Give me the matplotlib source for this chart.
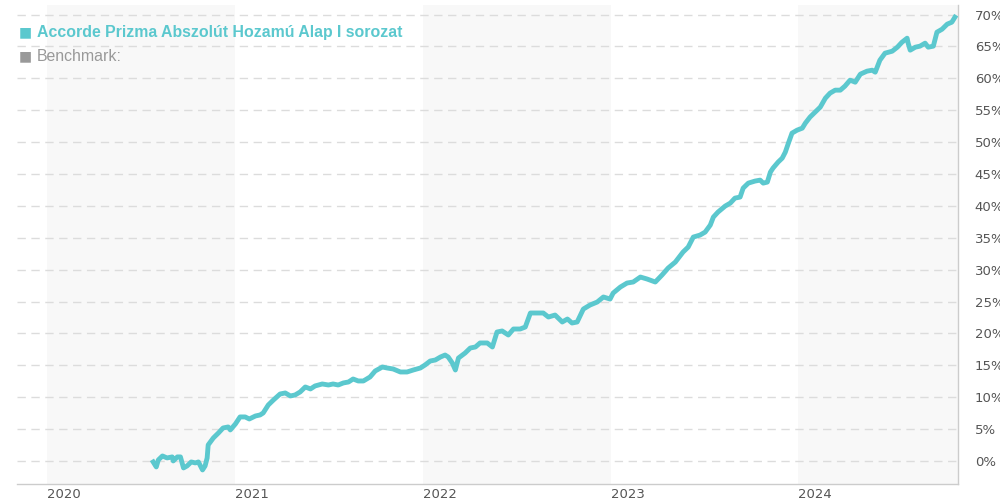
import pandas as pd
import matplotlib
matplotlib.use('Agg')
import matplotlib.pyplot as plt

# fund performance, cumulative return in %
dates = [
    '2020-07-25', '2020-07-31', '2020-08-04', '2020-08-12', '2020-08-21', '2020-08-31',
    '2020-09-02', '2020-09-10', '2020-09-16', '2020-09-22', '2020-09-29', '2020-10-07',
    '2020-10-15', '2020-10-21', '2020-10-29', '2020-11-03', '2020-11-07', '2020-11-09',
    '2020-11-19', '2020-11-29', '2020-12-08', '2020-12-18', '2020-12-22', '2021-01-01',
    '2021-01-10', '2021-01-20', '2021-01-28', '2021-02-09', '2021-02-18', '2021-02-24',
    '2021-03-06', '2021-03-16', '2021-03-29', '2021-04-08', '2021-04-18', '2021-04-27',
    '2021-05-07', '2021-05-17', '2021-05-27', '2021-06-05', '2021-06-19', '2021-07-01',
    '2021-07-10', '2021-07-20', '2021-07-30', '2021-08-09', '2021-08-18', '2021-08-28',
    '2021-09-07', '2021-09-20', '2021-09-30', '2021-10-14', '2021-10-23', '2021-11-04',
    '2021-11-18', '2021-12-01', '2021-12-13', '2021-12-27', '2022-01-05', '2022-01-15',
    '2022-01-25', '2022-02-04', '2022-02-13', '2022-02-19', '2022-02-27', '2022-03-05',
    '2022-03-11', '2022-03-24', '2022-04-03', '2022-04-13', '2022-04-22', '2022-05-06',
    '2022-05-16', '2022-05-25', '2022-06-04', '2022-06-16', '2022-06-26', '2022-07-09',
    '2022-07-19', '2022-07-29', '2022-08-11', '2022-08-23', '2022-09-02', '2022-09-15',
    '2022-09-29', '2022-10-09', '2022-10-18', '2022-10-28', '2022-11-09', '2022-11-22',
    '2022-12-06', '2022-12-18', '2022-12-31', '2023-01-06', '2023-01-20', '2023-02-02',
    '2023-02-14', '2023-02-28', '2023-03-13', '2023-03-29', '2023-04-11', '2023-04-23',
    '2023-05-07', '2023-05-22', '2023-06-01', '2023-06-11', '2023-06-24', '2023-07-04',
    '2023-07-14', '2023-07-20', '2023-07-29', '2023-08-12', '2023-08-22', '2023-08-31',
    '2023-09-10', '2023-09-16', '2023-09-26', '2023-10-09', '2023-10-19', '2023-10-25',
    '2023-11-02', '2023-11-08', '2023-11-13', '2023-11-23', '2023-12-01', '2023-12-07',
    '2023-12-13', '2023-12-20', '2023-12-30', '2024-01-09', '2024-01-15', '2024-01-24',
    '2024-02-03', '2024-02-13', '2024-02-23', '2024-03-03', '2024-03-13', '2024-03-23',
    '2024-04-01', '2024-04-11', '2024-04-21', '2024-05-01', '2024-05-14', '2024-05-24',
    '2024-05-30', '2024-06-08', '2024-06-18', '2024-07-02', '2024-07-12', '2024-07-21',
    '2024-07-31', '2024-08-02', '2024-08-06', '2024-08-16', '2024-08-25', '2024-09-04',
    '2024-09-10', '2024-09-20', '2024-09-27', '2024-10-07', '2024-10-17', '2024-10-26',
    '2024-11-01',
]
fund = [
    -0.16, -0.94, 0.16, 0.78, 0.47, 0.63,
    0.0, 0.63, 0.63, -1.10, -0.78, -0.16,
    -0.31, -0.16, -1.41, -0.78, 0.47, 2.51,
    3.60, 4.39, 5.17, 5.33, 4.86, 5.80,
    6.90, 6.90, 6.58, 7.05, 7.21, 7.52,
    8.78, 9.56, 10.50, 10.66, 10.19, 10.34,
    10.82, 11.60, 11.29, 11.76, 12.07, 11.91,
    12.07, 11.91, 12.23, 12.38, 12.85, 12.54,
    12.54, 13.17, 14.11, 14.73, 14.58, 14.42,
    13.95, 13.95, 14.26, 14.58, 15.05, 15.67,
    15.83, 16.30, 16.61, 16.30, 15.36, 14.26,
    16.14, 16.93, 17.71, 17.87, 18.50, 18.50,
    17.87, 20.22, 20.38, 19.75, 20.69, 20.69,
    21.00, 23.20, 23.20, 23.20, 22.57, 22.88,
    21.79, 22.26, 21.63, 21.79, 23.82, 24.45,
    24.92, 25.71, 25.39, 26.33, 27.27, 27.90,
    28.06, 28.84, 28.53, 28.06, 29.15, 30.25,
    31.19, 32.76, 33.54, 35.11, 35.42, 35.89,
    36.99, 38.24, 39.03, 39.97, 40.44, 41.22,
    41.38, 42.79, 43.57, 43.89, 44.04, 43.57,
    43.73, 45.30, 45.92, 46.87, 47.49, 48.43,
    49.84, 51.41, 51.88, 52.19, 52.98, 53.92,
    54.70, 55.49, 56.90, 57.68, 58.15, 58.15,
    58.78, 59.72, 59.40, 60.66, 61.13, 61.28,
    60.97, 62.85, 63.95, 64.26, 64.89, 65.67,
    66.30, 65.52, 64.42, 64.89, 65.05, 65.52,
    64.89, 65.05, 67.24, 67.71, 68.50, 68.81,
    69.59,
]
years = [2020, 2021, 2022, 2023, 2024]
yticks = list(range(0, 75, 5))

fund_name = 'Accorde Prizma Abszolút Hozamú Alap I sorozat'
bench_name = 'Benchmark:'

teal = '#5bc8ce'
x = pd.to_datetime(dates)

fig = plt.figure(figsize=(10, 5.03), dpi=100)
ax = fig.add_axes([0.017, 0.038, 0.941, 0.952])

start = pd.Timestamp('2019-11-03')
end = pd.Timestamp('2024-11-07')
ax.set_xlim(start, end)
ax.set_ylim(-3.6, 71.5)

# alternating year bands
for yr in years[::2]:
    a = pd.Timestamp(f'{yr}-01-01')
    b = min(pd.Timestamp(f'{yr + 1}-01-01'), end)
    ax.axvspan(a, b, color='#f8f8f8', zorder=0, lw=0)

for v in yticks:
    ax.axhline(v, color='#dcdcdc', lw=1, ls=(0, (6, 4)), zorder=1)

ax.plot(x, fund, color=teal, lw=3.5, solid_joinstyle='round', zorder=3)

ax.set_xticks([pd.Timestamp(f'{y}-01-01') for y in years])
ax.set_xticklabels([str(y) for y in years], ha='left')
ax.set_yticks(yticks)
ax.set_yticklabels([f'{v}%' for v in yticks], ha='left')
ax.yaxis.tick_right()
ax.tick_params(axis='y', length=0, pad=12, labelsize=9.5, labelcolor='#555555')
ax.tick_params(axis='x', length=0, pad=3, labelsize=9.5, labelcolor='#555555')

for s in ['left', 'top']:
    ax.spines[s].set_visible(False)
for s in ['right', 'bottom']:
    ax.spines[s].set_color('#cccccc')
    ax.spines[s].set_linewidth(1)

# legend
fig.text(0.019, 0.936, '■', color=teal, fontsize=10, va='center', family='DejaVu Sans')
fig.text(0.037, 0.936, fund_name, color=teal, fontsize=11.4, fontweight='bold',
         va='center', family='Liberation Sans')
fig.text(0.019, 0.888, '■', color='#999999', fontsize=10, va='center', family='DejaVu Sans')
fig.text(0.037, 0.888, bench_name, color='#999999', fontsize=11.4,
         va='center', family='Liberation Sans')

fig.savefig('out.png', dpi=100)
